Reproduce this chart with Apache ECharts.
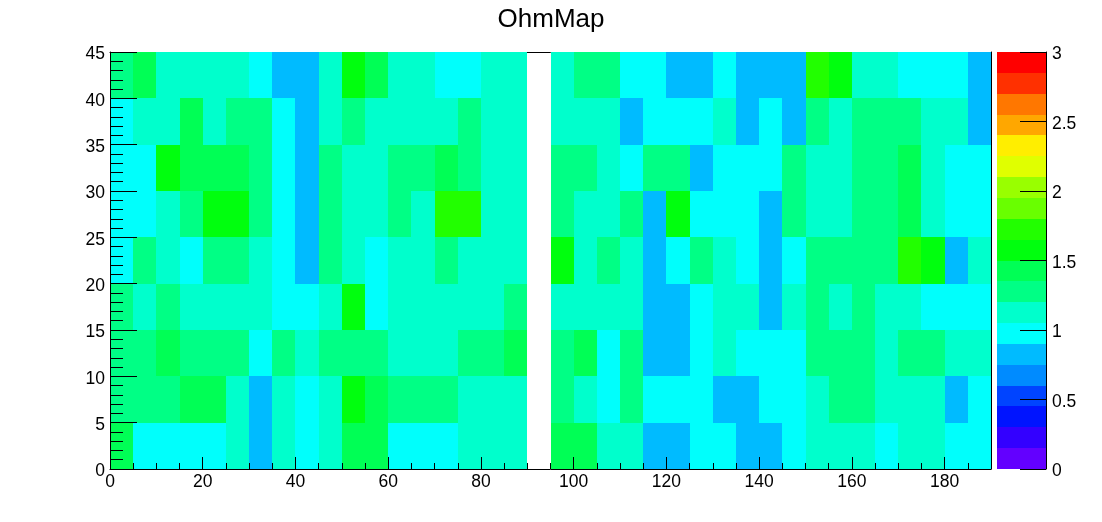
<!DOCTYPE html>
<html><head><meta charset="utf-8">
<style>html,body{margin:0;padding:0;background:#fff}#c{width:1102px;height:522px}</style>
<script src="https://cdn.jsdelivr.net/npm/echarts@6/dist/echarts.min.js"></script>
</head><body><div id="c"></div>
<script>
const title = 'OhmMap';
const xMax = 190, yMax = 45, binW = 5, binH = 5, zMax = 3;
const xTickLabels = [0,20,40,60,80,100,120,140,160,180];
const palette = ['#6300ff','#3300ff','#0014ff','#0044ff','#008bff','#00bbff','#00fffc','#00ffcc','#00ff85','#00ff55','#00ff0e','#22ff00','#69ff00','#99ff00','#e0ff00','#ffee00','#ffa700','#ff7700','#ff3000','#ff0000'];
const _ = null;
// bins 0..37 of width 5; bin 18 (90-95) is empty
const row00 = [1.42,.97,.97,.97,.97,1.12,.82,1.12,.97,1.12,1.42,1.42,.97,.97,.97,1.12,1.12,1.12,_,1.42,1.42,1.12,1.12,.82,.82,.97,.97,.82,.82,.97,1.12,1.12,1.12,.97,1.12,1.12,.97,.97];
const row05 = [1.27,1.27,1.27,1.42,1.42,1.12,.82,1.12,.97,1.12,1.57,1.42,1.27,1.27,1.27,1.12,1.12,1.12,_,1.27,1.12,.97,1.27,.97,.97,.97,.82,.82,.97,.97,1.12,1.27,1.27,1.12,1.12,1.12,.82,.97];
const row10 = [1.27,1.27,1.42,1.27,1.27,1.27,.97,1.27,1.12,1.27,1.27,1.27,1.12,1.12,1.12,1.27,1.27,1.42,_,1.27,1.42,.97,1.27,.82,.82,.97,1.12,.97,.97,.97,1.27,1.27,1.27,1.12,1.27,1.27,1.12,1.12];
const row15 = [1.27,1.12,1.27,1.12,1.12,1.12,1.12,.97,.97,1.12,1.57,.97,1.12,1.12,1.12,1.12,1.12,1.27,_,1.12,1.12,1.12,1.12,.82,.82,.97,1.12,1.12,.82,1.12,1.27,1.12,1.27,1.12,1.12,.97,.97,.97];
const row20 = [.97,1.27,1.12,.97,1.27,1.27,1.12,.97,.82,1.27,1.12,.97,1.12,1.12,1.27,1.12,1.12,1.12,_,1.57,1.12,1.27,1.12,.82,.97,1.27,1.12,.97,.82,.97,1.27,1.27,1.27,1.27,1.72,1.57,.82,1.12];
const row25 = [.97,.97,1.12,1.27,1.57,1.57,1.27,.97,.82,1.27,1.12,1.12,1.27,1.12,1.72,1.72,1.12,1.12,_,1.27,1.12,1.12,1.27,.82,1.57,.97,.97,.97,.82,1.27,1.12,1.12,1.27,1.27,1.42,1.12,.97,.97];
const row30 = [.97,.97,1.57,1.42,1.42,1.42,1.27,.97,.82,1.27,1.12,1.12,1.27,1.27,1.42,1.27,1.12,1.12,_,1.27,1.27,1.12,.97,1.27,1.27,.82,.97,.97,.97,1.27,1.12,1.12,1.27,1.27,1.42,1.12,.97,.97];
const row35 = [.97,1.12,1.12,1.42,1.12,1.27,1.27,.97,.82,1.12,1.27,1.12,1.12,1.12,1.12,1.27,1.12,1.12,_,1.12,1.12,1.12,.82,.97,.97,.97,1.12,.82,.97,.82,1.27,1.12,1.27,1.27,1.27,1.12,1.12,.82];
const row40 = [1.27,1.42,1.12,1.12,1.12,1.12,.97,.82,.82,1.12,1.57,1.42,1.12,1.12,.97,.97,1.12,1.12,_,1.12,1.27,1.27,.97,.97,.82,.82,.97,.82,.82,.82,1.72,1.57,1.12,1.12,.97,.97,.97,.82];
const rows = [row00,row05,row10,row15,row20,row25,row30,row35,row40];

const cells = [];
rows.forEach((r,j)=>r.forEach((v,i)=>{ if(v!==null) cells.push([i*binW,j*binH,v]); }));
const scale = palette.map((c,k)=>[k*zMax/palette.length]);
const colorOf = v => palette[Math.min(palette.length-1,Math.floor(v/zMax*palette.length))];

function rect(api,x0,y0,x1,y1,fill){
  const a = api.coord([x0,y0]), b = api.coord([x1,y1]);
  const l=Math.round(a[0]), r=Math.round(b[0]), t=Math.round(b[1]), d=Math.round(a[1]);
  return {type:'rect',shape:{x:l,y:t,width:r-l,height:d-t},style:{fill:fill,stroke:null}};
}
const font = {fontFamily:'Liberation Sans',fontSize:17.5,color:'#000'};
const ylab = {...font,rich:{a:{...font,padding:[5,0,0,0]}},formatter:v=>'{a|'+v+'}'};
const line = {lineStyle:{color:'#000',width:1}};
const F = {left:110,top:52,width:881,height:417};
const P = {left:997,top:52,width:49,height:417};

const option = {
  animation:false,
  backgroundColor:'#fff',
  title:{text:title,left:546,top:2,textAlign:'center',textStyle:{fontFamily:'Liberation Sans',fontWeight:'normal',fontSize:26,color:'#000'}},
  grid:[{...F,containLabel:false},{...P,containLabel:false}],
  xAxis:[
    {gridIndex:0,type:'value',min:0,max:xMax,z:10,position:'bottom',
      axisLine:{show:true,onZero:false,...line},
      axisTick:{show:true,inside:true,length:12,customValues:xTickLabels,...line},
      axisLabel:{...font,margin:4,customValues:xTickLabels,formatter:v=>String(v)},splitLine:{show:false}},
    {gridIndex:0,type:'value',min:0,max:xMax,interval:binW,z:10,position:'bottom',
      axisLine:{show:false},axisTick:{show:true,inside:true,length:6,...line},axisLabel:{show:false},splitLine:{show:false}},
    {gridIndex:0,type:'value',min:0,max:xMax,z:0,position:'top',
      axisLine:{show:true,onZero:false,...line},axisTick:{show:false},axisLabel:{show:false},splitLine:{show:false}},
    {gridIndex:1,type:'value',min:0,max:1,show:false}
  ],
  yAxis:[
    {gridIndex:0,type:'value',min:0,max:yMax,interval:binH,z:10,position:'left',
      axisLine:{show:true,onZero:false,...line},
      axisTick:{show:true,inside:true,length:27,...line},
      minorTick:{show:true,splitNumber:5,length:13,...line},
      axisLabel:{...ylab,margin:5},splitLine:{show:false}},
    {gridIndex:0,type:'value',min:0,max:yMax,z:10,position:'right',
      axisLine:{show:true,onZero:false,...line},axisTick:{show:false},axisLabel:{show:false},splitLine:{show:false}},
    {gridIndex:1,type:'value',min:0,max:zMax,interval:0.5,z:10,position:'right',
      axisLine:{show:true,onZero:false,...line},
      axisTick:{show:true,inside:true,length:26,...line},
      axisLabel:{...ylab,margin:6,showMinLabel:true,showMaxLabel:true},splitLine:{show:false}}
  ],
  series:[
    {type:'custom',coordinateSystem:'cartesian2d',xAxisIndex:0,yAxisIndex:0,z:2,silent:true,data:cells,
      renderItem:(p,api)=>rect(api,api.value(0),api.value(1),api.value(0)+binW,api.value(1)+binH,colorOf(api.value(2)))},
    {type:'custom',coordinateSystem:'cartesian2d',xAxisIndex:3,yAxisIndex:2,z:2,silent:true,data:scale,
      encode:{y:0},
      renderItem:(p,api)=>{const v=api.value(0);return rect(api,0,v,1,v+zMax/palette.length,colorOf(v+1e-6));}}
  ]
};
echarts.init(document.getElementById('c'),null,{renderer:'canvas'}).setOption(option);
</script></body></html>
